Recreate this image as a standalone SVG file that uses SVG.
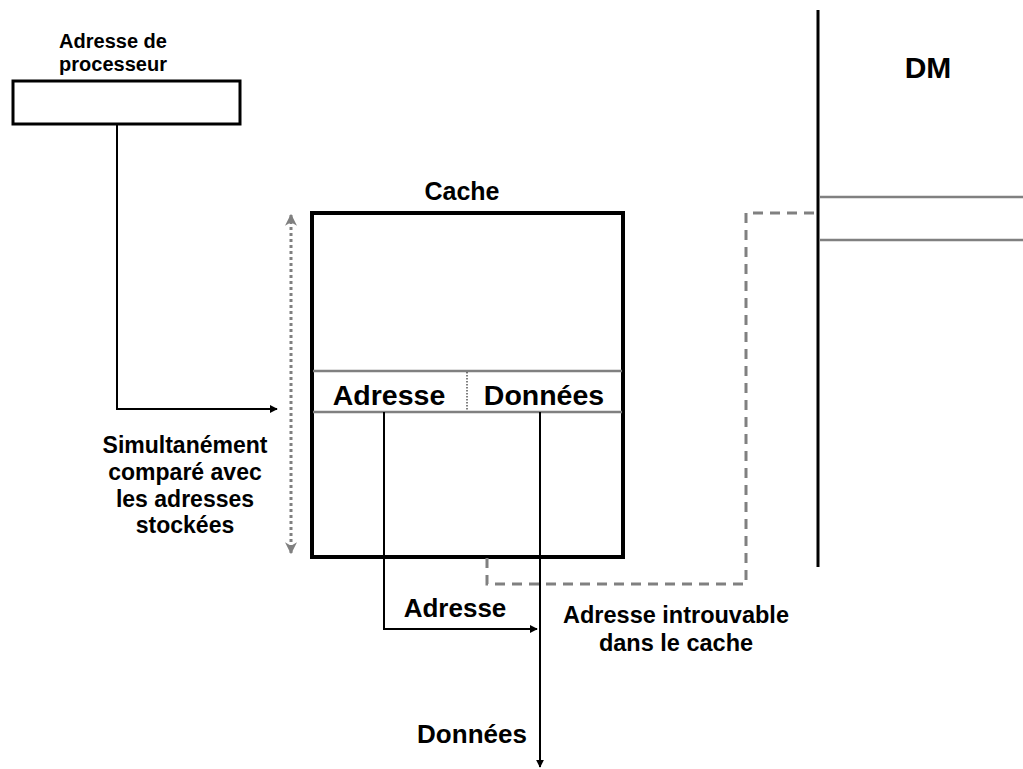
<svg xmlns="http://www.w3.org/2000/svg" width="1023" height="769" viewBox="0 0 1023 769">
<style>
text{font-family:"Liberation Sans",Arial,sans-serif;font-weight:bold;fill:#000;text-anchor:middle}
.blk{stroke:#000;fill:none}
.gry{stroke:#808080;fill:none}
</style>
<defs>
<marker id="ah" viewBox="0 0 10 10" refX="9" refY="5" markerWidth="4" markerHeight="4" orient="auto"><path d="M0,0 L10,5 L0,10 z" fill="#000"/></marker>
<marker id="gh" viewBox="0 0 10 10" refX="9" refY="5" markerWidth="4" markerHeight="4" orient="auto-start-reverse"><path d="M0,0 L10,5 L0,10 L3,5 z" fill="#808080"/></marker>
</defs>
<rect width="1023" height="769" fill="#fff"/>
<g id="processor">
<rect x="13" y="81" width="227" height="43" class="blk" stroke-width="3"/>
<text x="113" y="48" font-size="20">Adresse de</text>
<text x="113" y="71" font-size="20">processeur</text>
</g>
<g id="cache">
<text x="462" y="200" font-size="25">Cache</text>
<rect x="312" y="213" width="311" height="344" class="blk" stroke-width="4"/>
<line x1="313" y1="371" x2="622" y2="371" class="gry" stroke-width="2.5"/>
<line x1="313" y1="412" x2="622" y2="412" class="gry" stroke-width="2.5"/>
<line x1="467" y1="372" x2="467" y2="411" stroke="#000" stroke-width="1" stroke-dasharray="1.5,1.5"/>
<text x="389" y="405" font-size="28.5">Adresse</text>
<text x="544" y="405" font-size="28.5">Données</text>
</g>
<g id="dm">
<line x1="818" y1="10" x2="818" y2="567" class="blk" stroke-width="3"/>
<line x1="819" y1="197" x2="1023" y2="197" class="gry" stroke-width="2.5"/>
<line x1="819" y1="240" x2="1023" y2="240" class="gry" stroke-width="2.5"/>
<text x="928" y="78" font-size="30">DM</text>
</g>
<g id="connectors">
<polyline points="117,124 117,409 277,409" class="blk" stroke-width="2" marker-end="url(#ah)"/>
<line x1="291" y1="215" x2="291" y2="553" class="gry" stroke-width="3" stroke-dasharray="3,3" marker-start="url(#gh)" marker-end="url(#gh)"/>
<polyline points="384,412 384,629 537,629" class="blk" stroke-width="2" marker-end="url(#ah)"/>
<line x1="540" y1="412" x2="540" y2="767" class="blk" stroke-width="2" marker-end="url(#ah)"/>
<polyline points="487,558 487,584 746,584 746,213 816,213" class="gry" stroke-width="3" stroke-dasharray="10,7"/>
</g>
<g id="labels">
<text x="185" y="453" font-size="23">Simultanément</text>
<text x="185" y="480" font-size="23">comparé avec</text>
<text x="185" y="507" font-size="23">les adresses</text>
<text x="185" y="533" font-size="23">stockées</text>
<text x="455" y="617" font-size="26">Adresse</text>
<text x="676" y="623" font-size="23.5">Adresse introuvable</text>
<text x="676" y="651" font-size="23.5">dans le cache</text>
<text x="472" y="743" font-size="26">Données</text>
</g>
</svg>
